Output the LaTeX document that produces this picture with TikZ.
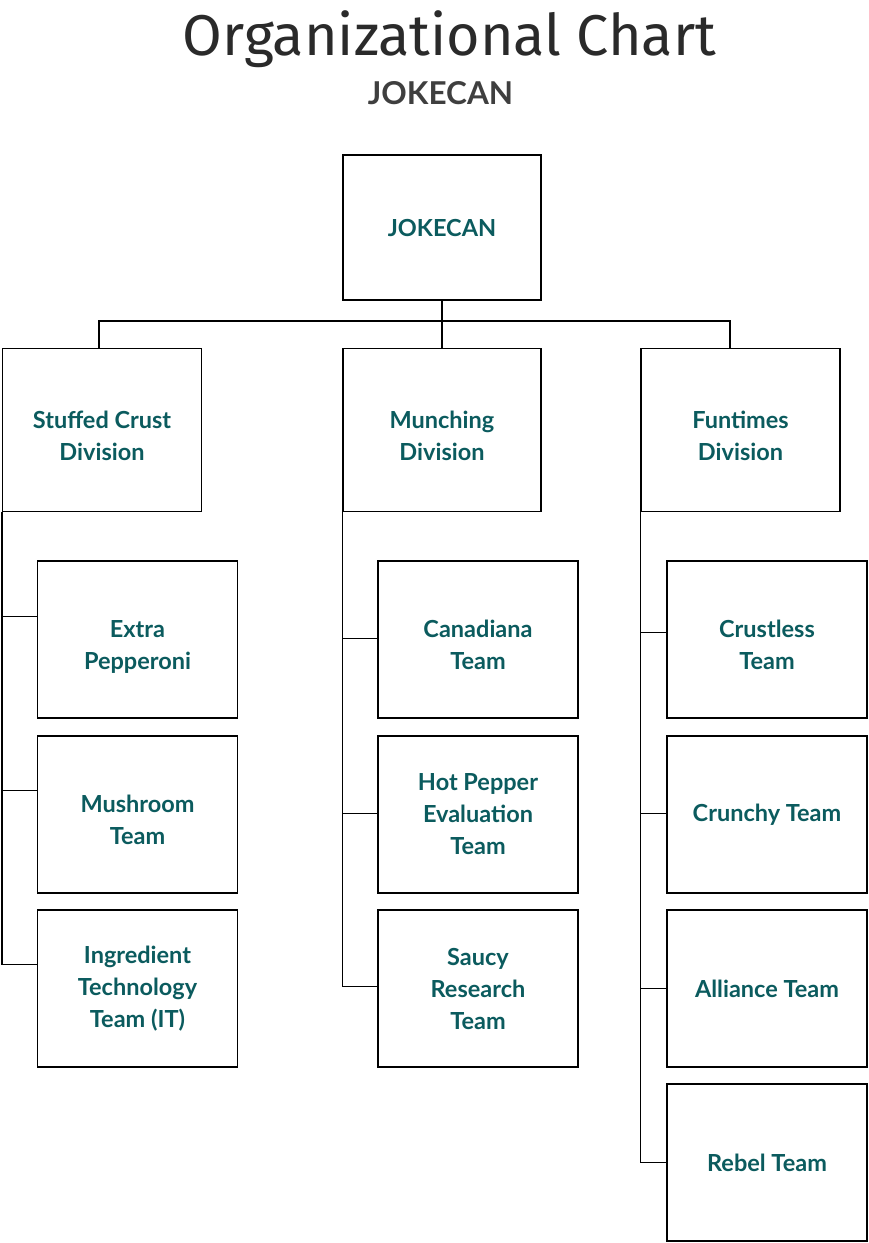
\documentclass[tikz,border=0pt]{standalone}
\usepackage{fontspec}
\setmainfont{Lato}
\newfontfamily\titlefont{Fira Sans}
\definecolor{joketeal}{HTML}{0B5B5E}
\definecolor{inkgrey}{HTML}{2A2A2A}
\newcommand{\tallstrut}{\rule{0pt}{36pt}}% first of two lines
\newcommand{\deepstrut}{\rule[-8pt]{0pt}{8pt}}% second of two lines
\begin{document}
\begin{tikzpicture}[x=1pt, y=-1pt, line width=1.5pt, line cap=rect,
  unit/.style={draw, rectangle, inner sep=0pt, align=center, text=joketeal,
    minimum width=200pt, minimum height=157pt,
    font=\bfseries\fontsize{23.5}{32}\selectfont}]
\fill[white] (0,0) rectangle (868,1243);
\useasboundingbox (0,0) rectangle (868,1243);
% heading
\node[anchor=base, text=inkgrey, font=\titlefont\fontsize{57.5}{60}\selectfont] (title) at (449.5,55) {Organizational Chart};
\node[anchor=base, text=inkgrey!90, font=\bfseries\fontsize{31.5}{34}\selectfont] (subtitle) at (440.5,104) {JOKECAN};
% boxes
\node[unit, minimum width=198pt, minimum height=145pt] (top) at (442,227.5) {JOKECAN};
\node[unit, minimum width=199pt, minimum height=163pt] (stuffed) at (102,430) {\tallstrut Stuffed Crust\\Division\deepstrut};
\node[unit, minimum width=198pt, minimum height=163pt] (munch) at (442,430) {\tallstrut Munching\\Division\deepstrut};
\node[unit, minimum width=199pt, minimum height=163pt] (fun) at (740.5,430) {\tallstrut Funtimes\\Division\deepstrut};
\node[unit] (pepperoni) at (137.5,639.5) {\tallstrut Extra\\Pepperoni\deepstrut};
\node[unit] (mushroom) at (137.5,814.5) {\tallstrut Mushroom\\Team\deepstrut};
\node[unit] (ingredient) at (137.5,988.5) {Ingredient\\Technology\\Team (IT)};
\node[unit] (canadiana) at (478,639.5) {\tallstrut Canadiana\\Team\deepstrut};
\node[unit] (hotpepper) at (478,814.5) {Hot Pepper\\Evaluation\\Team};
\node[unit] (saucy) at (478,988.5) {Saucy\\Research\\Team};
\node[unit] (crustless) at (767,639.5) {\tallstrut Crustless\\Team\deepstrut};
\node[unit] (crunchy) at (767,814.5) {Crunchy Team};
\node[unit] (alliance) at (767,988.5) {Alliance Team};
\node[unit] (rebel) at (767,1162.5) {Rebel Team};
% connectors
\coordinate (bar) at ([yshift=-20pt]top.south);
\draw (top.south) -- (munch.north);
\draw (bar) -| ([xshift=-3pt]stuffed.north);
\draw (bar) -| ([xshift=-10.5pt]fun.north);
\foreach \kid/\drop in {pepperoni/56, mushroom/55, ingredient/55}
  \draw (stuffed.south west) |- ([yshift=-\drop pt]\kid.north west);
\foreach \kid/\drop in {canadiana/78, hotpepper/78, saucy/77}
  \draw (munch.south west) |- ([yshift=-\drop pt]\kid.north west);
\foreach \kid/\drop in {crustless/72, crunchy/78, alliance/79, rebel/79}
  \draw (fun.south west) |- ([yshift=-\drop pt]\kid.north west);
\end{tikzpicture}
\end{document}
